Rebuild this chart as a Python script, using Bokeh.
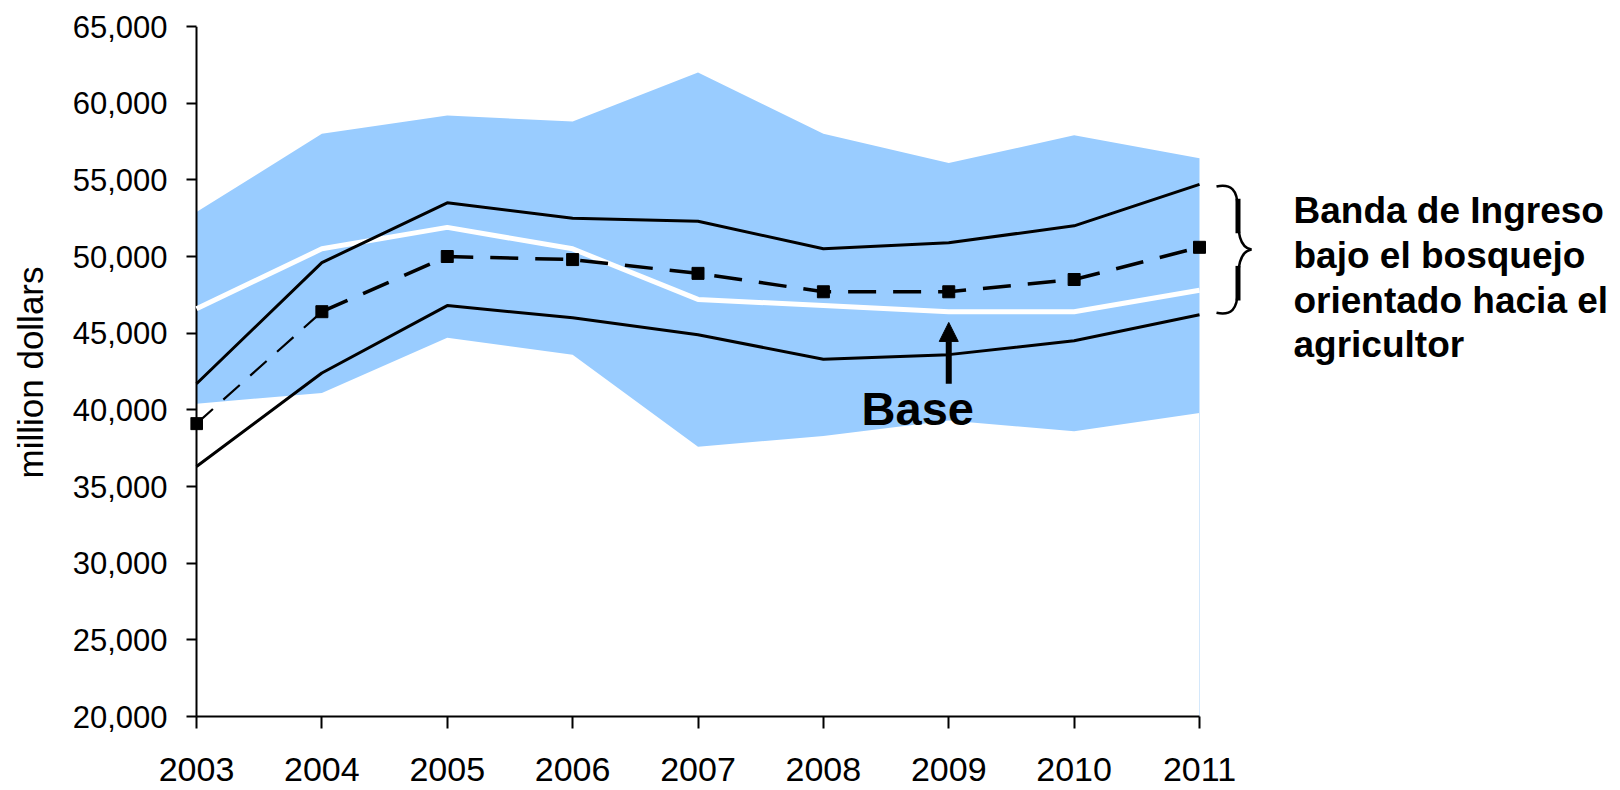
from bokeh.plotting import figure
from bokeh.models import Range1d, FixedTicker, NumeralTickFormatter, Arrow, NormalHead
from bokeh.core.properties import value
from bokeh.embed import file_html
from bokeh.resources import INLINE

# ---------------- data ----------------
years = [2003, 2004, 2005, 2006, 2007, 2008, 2009, 2010, 2011]
band_hi = [52900, 58000, 59200, 58800, 62000, 58000, 56100, 57900, 56400]
band_lo = [40400, 41100, 44700, 43600, 37600, 38300, 39300, 38600, 39800]
upper = [41700, 49600, 53500, 52500, 52300, 50500, 50900, 52000, 54700]
base = [46600, 50500, 51900, 50500, 47200, 46800, 46400, 46400, 47800]
farmer = [39100, 46400, 50000, 49800, 48900, 47700, 47700, 48500, 50600]
lower = [36300, 42400, 46800, 46000, 44900, 43300, 43600, 44500, 46200]
y_ticks = [20000, 25000, 30000, 35000, 40000, 45000, 50000, 55000, 60000, 65000]
band_text = "Banda de Ingreso\nbajo el bosquejo\norientado hacia el\nagricultor"
base_text = "Base"
y_label = "million dollars"

FONT = "Liberation Sans"
BLUE = "#99CCFF"

# ---------------- geometry ----------------
W, H = 1620, 790
LEFT, TOP, BOTTOM = 190, 26, 72
PX_YEAR = 125.375              # pixels per year
LPAD = 6                       # px between frame edge and first year
frame_w = W - LEFT
frame_h = H - TOP - BOTTOM
y0, y1 = y_ticks[0], y_ticks[-1]
val_px = (y1 - y0) / (frame_h - 2)   # value per pixel (20,000 sits 2px above frame bottom)

x_start = years[0] - LPAD / PX_YEAR
x_end = x_start + frame_w / PX_YEAR

p = figure(width=W, height=H, output_backend="svg", toolbar_location=None,
           x_range=Range1d(x_start, x_end),
           y_range=Range1d(y0 - 2 * val_px, y1),
           min_border_left=LEFT, min_border_right=0,
           min_border_top=TOP, min_border_bottom=BOTTOM)
p.outline_line_color = None
p.background_fill_color = "white"
p.border_fill_color = "white"
p.xgrid.visible = False
p.ygrid.visible = False

# axes
xa = p.xaxis[0]
xa.ticker = FixedTicker(ticks=years)
xa.axis_line_color = None
xa.major_tick_in = 2
xa.major_tick_out = 10
xa.major_tick_line_width = 2
xa.major_tick_line_color = "black"
xa.minor_tick_line_color = None
xa.major_label_text_font = FONT
xa.major_label_text_font_size = "34px"
xa.major_label_text_color = "black"
xa.major_label_standoff = 29

ya = p.yaxis[0]
ya.ticker = FixedTicker(ticks=y_ticks)
ya.formatter = NumeralTickFormatter(format="0,0")
ya.axis_line_color = None
ya.major_tick_in = LPAD
ya.major_tick_out = 4
ya.major_tick_line_width = 2
ya.major_tick_line_color = "black"
ya.minor_tick_line_color = None
ya.major_label_text_font = FONT
ya.major_label_text_font_size = "31px"
ya.major_label_text_color = "black"
ya.major_label_standoff = 19
ya.axis_label = y_label
ya.axis_label_text_font = FONT
ya.axis_label_text_font_size = "35px"
ya.axis_label_text_font_style = "normal"
ya.axis_label_text_color = "black"
ya.axis_label_standoff = 20

# band
p.varea(x=years, y1=band_lo, y2=band_hi, fill_color=BLUE)
p.line([years[-1], years[-1]], [y0, band_lo[-1]], line_color="#d4e8fb", line_width=1)

# axis lines starting at the first year
p.line([years[0], years[0]], [y0, y1], line_color="black", line_width=2)
p.line([years[0], years[-1]], [y0, y0], line_color="black", line_width=2)

# series
p.line(years, base, line_color="white", line_width=5)
p.line(years, upper, line_color="black", line_width=3)
p.line(years, lower, line_color="black", line_width=3)
p.line(years[:2], farmer[:2], line_color="black", line_width=2.2, line_dash="22 14")
p.line(years[1:], farmer[1:], line_color="black", line_width=3.5, line_dash="28 17")
p.scatter(years, farmer, marker="square", size=12, fill_color="black", line_color="black")

# Base annotation
p.text(x=[years[6] - 31 / PX_YEAR], y=[40100], text=[base_text],
       text_font=value(FONT), text_font_size="47px", text_font_style="bold",
       text_align="center", text_baseline="alphabetic", text_color="black")
p.add_layout(Arrow(end=NormalHead(size=19, fill_color="black", line_color="black", line_width=1),
                   x_start=years[6], y_start=41700, x_end=years[6], y_end=45700,
                   line_width=6, line_color="black"))

# brace to the right of the last year, spanning the two black lines
top_v, bot_v = upper[-1], lower[-1]
def bx(dx):
    return years[-1] + dx / PX_YEAR
def by(d):
    return top_v - d * (top_v - bot_v) / 128.0
curves = [
    ((17, 2), (32, -1), (38, 6), (38, 22)),
    ((38, 22), (38, 48), (40, 62), (52, 64)),
    ((52, 64), (40, 66), (38, 80), (38, 106)),
    ((38, 106), (38, 122), (32, 129), (17, 126)),
]
p.bezier(x0=[bx(c[0][0]) for c in curves], y0=[by(c[0][1]) for c in curves],
         cx0=[bx(c[1][0]) for c in curves], cy0=[by(c[1][1]) for c in curves],
         cx1=[bx(c[2][0]) for c in curves], cy1=[by(c[2][1]) for c in curves],
         x1=[bx(c[3][0]) for c in curves], y1=[by(c[3][1]) for c in curves],
         line_color="black", line_width=2.5)
# thicker stems of the serif brace
p.segment(x0=[bx(38.5), bx(38.5)], y0=[by(14), by(80)], x1=[bx(38.5), bx(38.5)], y1=[by(48), by(114)],
          line_color="black", line_width=5)

p.text(x=[bx(94)], y=[top_v - 6 * val_px], text=[band_text],
       text_font=value(FONT), text_font_size="37px", text_font_style="bold",
       text_align="left", text_baseline="top", text_line_height=1.09, text_color="black")

open("out.html", "w").write(file_html(p, INLINE))
